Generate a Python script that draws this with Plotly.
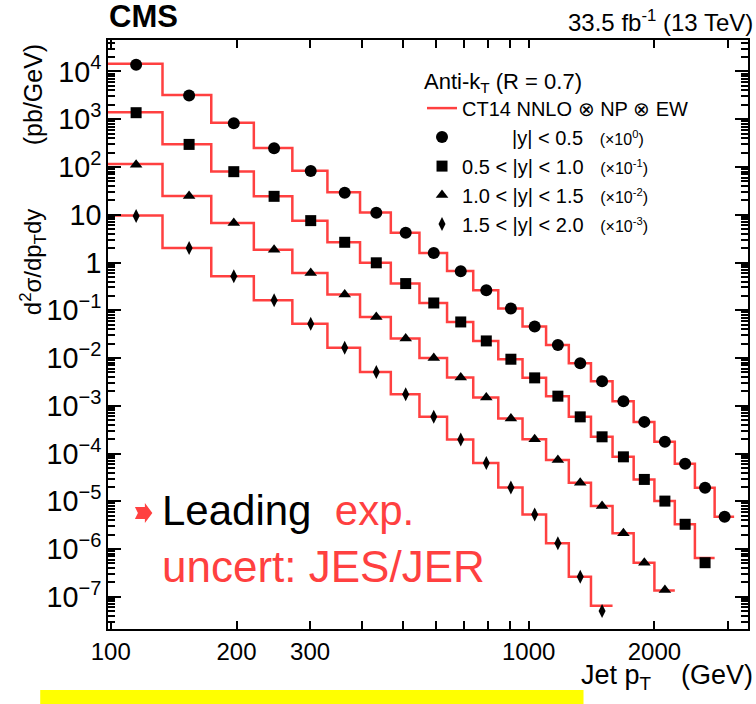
import math
import plotly.graph_objects as go

# ---------------- data (as drawn, scale factors already applied) ----------------
pt_edges = [97, 133, 174, 220, 272, 330, 395, 468, 548, 638, 737, 846, 967, 1101,
            1248, 1410, 1588, 1784, 2000, 2238, 2500, 2787, 3103]
pt_centers = [115, 154, 197, 246, 301, 363, 432, 508, 593, 688, 792, 907, 1034, 1175,
              1329, 1499, 1686, 1892, 2119, 2369, 2644, 2945]

# |y| < 0.5 (x10^0)
data_y0 = [1.38e4, 3.15e3, 828, 248, 82, 29, 11.0, 4.18, 1.58, 0.655, 0.262, 0.109,
           0.0456, 0.0188, 7.78e-3, 3.27e-3, 1.25e-3, 4.6e-4, 1.76e-4, 6.1e-5, 1.92e-5, 4.74e-6]
# 0.5 < |y| < 1.0 (x10^-1)
data_y1 = [1.37e3, 297, 79.8, 24.3, 7.53, 2.65, 0.986, 0.362, 0.142, 0.0569, 0.0228,
           9.44e-3, 3.84e-3, 1.59e-3, 5.86e-4, 2.24e-4, 8.53e-5, 2.87e-5, 1.01e-5, 3.30e-6, 5.18e-7]
# 1.0 < |y| < 1.5 (x10^-2)
data_y2 = [112, 24.6, 6.70, 1.86, 0.603, 0.213, 0.0724, 0.0256, 0.0100, 3.91e-3, 1.49e-3,
           5.42e-4, 2.00e-4, 7.28e-5, 2.44e-5, 7.94e-6, 2.13e-6, 5.18e-7, 1.39e-7]
# 1.5 < |y| < 2.0 (x10^-3)
data_y3 = [9.40, 2.01, 0.514, 0.162, 0.0522, 0.0164, 5.12e-3, 1.75e-3, 5.86e-4, 1.97e-4,
           6.30e-5, 1.94e-5, 5.32e-6, 1.32e-6, 2.63e-7, 5.05e-8]

# CT14 NNLO x NP x EW prediction per bin
theory_y0 = [1.45e4, 3.2e3, 840, 250, 83, 29.5, 11.1, 4.2, 1.59, 0.66, 0.262, 0.109,
             0.0456, 0.0188, 7.8e-3, 3.27e-3, 1.25e-3, 4.6e-4, 1.76e-4, 6.1e-5, 1.92e-5, 4.74e-6]
theory_y1 = [1.4e3, 300, 80, 24.3, 7.5, 2.65, 0.99, 0.362, 0.142, 0.0569, 0.0228,
             9.44e-3, 3.84e-3, 1.59e-3, 5.86e-4, 2.24e-4, 8.53e-5, 2.87e-5, 1.01e-5, 3.3e-6, 6.5e-7]
theory_y2 = [115, 24.6, 6.7, 1.86, 0.603, 0.213, 0.0724, 0.0256, 0.0100, 3.91e-3, 1.49e-3,
             5.42e-4, 2.0e-4, 7.28e-5, 2.44e-5, 7.94e-6, 2.13e-6, 5.18e-7, 1.35e-7]
theory_y3 = [9.6, 2.01, 0.514, 0.162, 0.0522, 0.0164, 5.12e-3, 1.75e-3, 5.86e-4, 1.97e-4,
             6.3e-5, 1.94e-5, 5.32e-6, 1.32e-6, 2.63e-7, 6.5e-8]

bin_labels = ["|y| < 0.5", "0.5 < |y| < 1.0", "1.0 < |y| < 1.5", "1.5 < |y| < 2.0"]
scale_exps = ["0", "-1", "-2", "-3"]

x_tickvals = [100, 200, 300, 400, 500, 600, 700, 800, 900, 1000, 2000, 3000]
x_ticktext = ["100", "200", "300", "", "", "", "", "", "", "1000", "2000", ""]

# ---------------- styles ----------------
RED = "#ff4040"
FONT = "Liberation Sans, Arial, sans-serif"
symbols = ["circle", "square", "triangle-up", "diamond-tall"]
msizes = [12, 11, 11, 10]
pads = ["\u00a0" * 9, "", "", ""]

W, H = 756, 704
ML, MR, MT, MB = 108, 6, 40, 75
PW, PH = W - ML - MR, H - MT - MB
XR = [math.log10(98.5), 3.525]
YR = [-7.674, 4.659]


def px2paper(px, py):
    return (px - ML) / PW, (H - MB - py) / PH


data_sets = [data_y0, data_y1, data_y2, data_y3]
theory_sets = [theory_y0, theory_y1, theory_y2, theory_y3]

fig = go.Figure()

for i, th in enumerate(theory_sets):
    n = len(th)
    fig.add_trace(go.Scatter(
        x=pt_edges[:n + 1], y=th + [th[-1]],
        mode="lines", line=dict(color=RED, width=2.5, shape="hv"),
        name="CT14 NNLO \u2297 NP \u2297 EW", legendgroup="theory",
        showlegend=(i == 0), hoverinfo="skip"))

for i, d in enumerate(data_sets):
    n = len(d)
    label = (pads[i] + bin_labels[i] + "\u00a0\u00a0\u00a0<span style='font-size:16px'>(\u00d710<sup>"
             + scale_exps[i] + "</sup>)</span>")
    fig.add_trace(go.Scatter(
        x=pt_centers[:n], y=d, mode="markers",
        marker=dict(symbol=symbols[i], size=msizes[i], color="black",
                    line=dict(width=0)),
        name=label))

annotations = []

def ann(text, px, py, size, xanchor="left", yanchor="middle", color="black", angle=0, family=FONT):
    x, y = px2paper(px, py)
    annotations.append(dict(text=text, x=x, y=y, xref="paper", yref="paper",
                            xanchor=xanchor, yanchor=yanchor, showarrow=False,
                            textangle=angle,
                            font=dict(size=size, color=color, family=family)))

ann("<b>CMS</b>", 107, 17, 31)
ann("33.5 fb<sup>-1</sup> (13 TeV)", 757, 21, 24, xanchor="right")
ann("(pb/GeV)", 33, 95, 25, xanchor="center", angle=-90)
ann("d<sup>2</sup>\u03c3/dp<sub>T</sub>dy", 33, 262, 24, xanchor="center", angle=-90)
ann("Jet p<sub>T</sub>\u00a0\u00a0\u00a0\u00a0(GeV)", 757, 677, 27, xanchor="right")
ann("Leading\u00a0 <span style='color:%s'>exp.</span>" % RED, 160, 510, 42)
ann("uncert: JES/JER", 160, 566, 44, color=RED)

shapes = []

# yellow banner at the bottom
yx0, yy1 = px2paper(40, 690)
yx1, yy0 = px2paper(585, 720)
shapes.append(dict(type="rect", xref="paper", yref="paper", x0=yx0, x1=yx1, y0=yy0, y1=yy1,
                   fillcolor="#ffff00", line=dict(width=0), layer="above"))

# red bullet arrow before "Leading"
arrow_px = [(135, 507), (145, 507), (145, 503), (152.5, 513), (145, 523), (145, 519), (135, 519), (138, 513)]
pts = [px2paper(a, b) for a, b in arrow_px]
path = "M" + " L".join("%.5f,%.5f" % p for p in pts) + " Z"
shapes.append(dict(type="path", xref="paper", yref="paper", path=path,
                   fillcolor=RED, line=dict(width=0), layer="above"))

lx, ly = px2paper(423, 60)

fig.update_layout(
    width=W, height=H, autosize=False,
    margin=dict(l=ML, r=MR, t=MT, b=MB, pad=0),
    paper_bgcolor="white", plot_bgcolor="white",
    font=dict(family=FONT, color="black"),
    showlegend=True,
    legend=dict(x=lx, y=ly, xanchor="left", yanchor="top",
                bgcolor="rgba(0,0,0,0)", borderwidth=0,
                font=dict(size=20, family=FONT, color="black"),
                title=dict(text="Anti-k<sub>T</sub> (R = 0.7)", font=dict(size=22, family=FONT)),
                tracegroupgap=0, itemwidth=30),
    annotations=annotations,
    shapes=shapes,
)

fig.update_xaxes(
    type="log", range=XR,
    tickmode="array", tickvals=x_tickvals, ticktext=x_ticktext,
    ticks="inside", ticklen=8, tickwidth=2, tickcolor="black",
    showline=True, linewidth=2, linecolor="black", mirror="ticks",
    showgrid=False, zeroline=False,
    tickfont=dict(size=24, family=FONT, color="black"))

fig.update_yaxes(
    type="log", range=YR, dtick=1, exponentformat="power",
    ticks="inside", ticklen=13, tickwidth=2, tickcolor="black",
    minor=dict(ticks="inside", ticklen=7, tickwidth=1.5, tickcolor="black", dtick="D1", showgrid=False),
    showline=True, linewidth=2, linecolor="black", mirror="ticks",
    showgrid=False, zeroline=False,
    tickfont=dict(size=23, family=FONT, color="black"))

fig.write_html("out.html")
